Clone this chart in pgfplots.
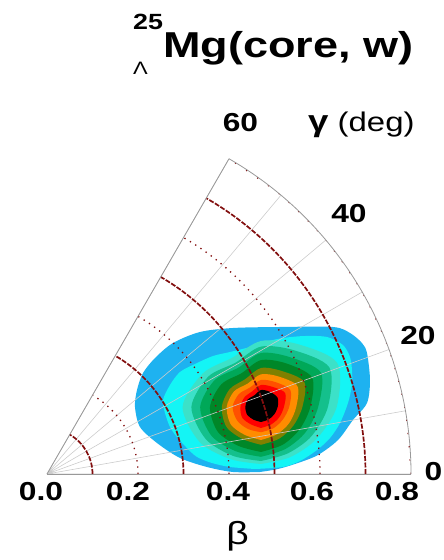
\documentclass[border=0pt]{standalone}
\usepackage{pgfplots}
\pgfplotsset{compat=1.18}
\usepgfplotslibrary{polar}
\usepackage{fontspec}
\setmainfont{Liberation Sans}
\newfontfamily\widefont[FakeStretch=1.22]{Liberation Sans}
\newfontfamily\titlefont[FakeStretch=1.25]{Liberation Sans}
\definecolor{dkred}{RGB}{130,15,15}
\definecolor{cBlue}{RGB}{30,178,240}
\definecolor{cCyan}{RGB}{20,245,245}
\definecolor{cAqua}{RGB}{60,225,200}
\definecolor{cTeal}{RGB}{20,192,140}
\definecolor{cGreen}{RGB}{0,168,88}
\definecolor{cDkGreen}{RGB}{0,135,40}
\definecolor{cOlive}{RGB}{128,128,0}
\definecolor{cOrange}{RGB}{255,140,0}
\definecolor{cOrRed}{RGB}{255,80,0}
\definecolor{cRed}{RGB}{255,0,0}
\begin{document}
\begin{tikzpicture}
\begin{polaraxis}[
  scale only axis, width=728bp, height=728bp,
  xmin=0, xmax=60, ymin=0, ymax=0.8,
  xtick={0,10,20,30,40,50,60},
  ytick={0.2,0.4,0.6}, minor ytick={0.1,0.3,0.5,0.7},
  xticklabels={}, yticklabels={},
  major tick length=0pt, minor tick length=0pt,
  grid=both,
  major x grid style={draw=black!20, line width=0.6bp},
  major y grid style={draw=dkred, line width=1.3bp, dash pattern=on 1.3bp off 5bp},
  minor y grid style={draw=dkred, line width=1.7bp, dash pattern=on 5bp off 1.5bp},
  axis line style={draw=black!40, line width=0.8bp},
  axis on top,
]
\coordinate (O) at (axis cs:0,0);
% outer level (blue)
\addplot[data cs=cart, fill=cBlue, draw=none, smooth] coordinates {
(0.4681,0.0044) (0.5077,0.0110) (0.5516,0.0242) (0.5956,0.0418) (0.6396,0.0747)
(0.6725,0.1187) (0.7033,0.1560) (0.7099,0.2066) (0.7033,0.2659) (0.6923,0.2879)
(0.6659,0.3099) (0.6286,0.3231) (0.5121,0.3231) (0.4088,0.3209) (0.3363,0.3121)
(0.2769,0.2879) (0.2374,0.2549) (0.2110,0.2220) (0.1978,0.1846) (0.1934,0.1473)
(0.2044,0.1033) (0.2418,0.0681) (0.2923,0.0352) (0.3516,0.0154) (0.4088,0.0044)
(0.4681,0.0044)};
% cyan
\addplot[data cs=cart, fill=cCyan, draw=none, smooth] coordinates {
(0.4571,0.0110) (0.5187,0.0154) (0.5560,0.0286) (0.5934,0.0527) (0.6220,0.0791)
(0.6440,0.1121) (0.6615,0.1560) (0.6703,0.1956) (0.6703,0.2286) (0.6659,0.2571)
(0.6505,0.2835) (0.6154,0.3011) (0.5670,0.3033) (0.5187,0.2989) (0.4791,0.2901)
(0.4462,0.2791) (0.4022,0.2681) (0.3648,0.2593) (0.3253,0.2418) (0.2923,0.2242)
(0.2703,0.1956) (0.2549,0.1626) (0.2593,0.1341) (0.2703,0.1033) (0.2857,0.0813)
(0.3077,0.0571) (0.3297,0.0374) (0.3626,0.0242) (0.4022,0.0154) (0.4571,0.0110)};
% aqua
\addplot[data cs=cart, fill=cAqua, draw=none, smooth] coordinates {
(0.4703,0.0220) (0.5341,0.0369) (0.5921,0.0769) (0.6367,0.1473) (0.6378,0.2440)
(0.5503,0.2857) (0.4703,0.2923) (0.4077,0.2558) (0.3424,0.2211) (0.2980,0.1473)
(0.3360,0.0697) (0.4040,0.0325) (0.4703,0.0220)};
% teal
\addplot[data cs=cart, fill=cTeal, draw=none, smooth] coordinates {
(0.4703,0.0286) (0.5292,0.0453) (0.5813,0.0831) (0.6174,0.1473) (0.6207,0.2341)
(0.5424,0.2721) (0.4703,0.2800) (0.4141,0.2446) (0.3545,0.2141) (0.3174,0.1473)
(0.3488,0.0769) (0.4084,0.0400) (0.4703,0.0286)};
% green
\addplot[data cs=cart, fill=cGreen, draw=none, smooth] coordinates {
(0.4703,0.0378) (0.5237,0.0549) (0.5677,0.0910) (0.5960,0.1473) (0.6018,0.2231)
(0.5336,0.2569) (0.4703,0.2659) (0.4204,0.2336) (0.3684,0.2062) (0.3367,0.1473)
(0.3613,0.0842) (0.4143,0.0503) (0.4703,0.0378)};
% dark green
\addplot[data cs=cart, fill=cDkGreen, draw=none, smooth] coordinates {
(0.4703,0.0484) (0.5182,0.0644) (0.5552,0.0982) (0.5787,0.1473) (0.5826,0.2121)
(0.5257,0.2431) (0.4703,0.2503) (0.4275,0.2215) (0.3835,0.1974) (0.3582,0.1473)
(0.3756,0.0925) (0.4209,0.0618) (0.4703,0.0484)};
% olive
\addplot[data cs=cart, fill=cOlive, draw=none, smooth] coordinates {
(0.4703,0.0642) (0.5105,0.0778) (0.5415,0.1062) (0.5613,0.1473) (0.5655,0.2022)
(0.5160,0.2264) (0.4703,0.2330) (0.4352,0.2081) (0.4018,0.1868) (0.3842,0.1473)
(0.3945,0.1035) (0.4297,0.0769) (0.4703,0.0642)};
% orange
\addplot[data cs=cart, fill=cOrange, draw=none, smooth] coordinates {
(0.4703,0.0747) (0.5051,0.0873) (0.5321,0.1116) (0.5477,0.1473) (0.5503,0.1934)
(0.5090,0.2143) (0.4703,0.2191) (0.4407,0.1985) (0.4110,0.1815) (0.3949,0.1473)
(0.4040,0.1088) (0.4349,0.0859) (0.4703,0.0747)};
% orange-red
\addplot[data cs=cart, fill=cOrRed, draw=none, smooth] coordinates {
(0.4703,0.0919) (0.4974,0.1004) (0.5182,0.1196) (0.5323,0.1473) (0.5349,0.1846)
(0.5020,0.2020) (0.4703,0.2066) (0.4457,0.1899) (0.4215,0.1754) (0.4079,0.1473)
(0.4182,0.1171) (0.4422,0.0987) (0.4703,0.0919)};
% red
\addplot[data cs=cart, fill=cRed, draw=none, smooth] coordinates {
(0.4703,0.1011) (0.4925,0.1088) (0.5101,0.1242) (0.5207,0.1473) (0.5235,0.1780)
(0.4958,0.1914) (0.4703,0.1956) (0.4505,0.1813) (0.4338,0.1684) (0.4251,0.1473)
(0.4292,0.1235) (0.4484,0.1090) (0.4703,0.1011)};
% black
\addplot[data cs=cart, fill=black, draw=none, smooth] coordinates {
(0.4703,0.1143) (0.4864,0.1196) (0.4991,0.1305) (0.5070,0.1473) (0.5066,0.1681)
(0.4897,0.1807) (0.4703,0.1846) (0.4556,0.1727) (0.4413,0.1640) (0.4358,0.1473)
(0.4402,0.1299) (0.4541,0.1193) (0.4703,0.1143)};
% dots on the outer arc
\addplot[draw=dkred, line width=1.3bp, dash pattern=on 1.3bp off 12bp, smooth] coordinates {
(0,0.8) (10,0.8) (20,0.8) (30,0.8) (40,0.8) (50,0.8) (60,0.8)};
\end{polaraxis}
% tick labels
\begin{scope}[every node/.style={inner sep=0pt, font=\widefont\bfseries\fontsize{26bp}{30bp}\selectfont}]
\node at ([shift={(-6bp,-18bp)}]O) {0.0};
\node at ([shift={(81bp,-18bp)}]O) {0.2};
\node at ([shift={(181bp,-18bp)}]O) {0.4};
\node at ([shift={(265bp,-18bp)}]O) {0.6};
\node at ([shift={(350bp,-18bp)}]O) {0.8};
\node at ([shift={(386.5bp,2.5bp)}]O) {0};
\node at ([shift={(371bp,138bp)}]O) {20};
\node at ([shift={(302bp,260bp)}]O) {40};
\node at ([shift={(193.5bp,351.5bp)}]O) {60};
\end{scope}
\node[anchor=base west, inner sep=0pt] at ([shift={(261bp,342bp)}]O)
  {\widefont\fontsize{30bp}{32bp}\selectfont\bfseries γ\mdseries\fontsize{27bp}{30bp}\selectfont\ (deg)};
\node[inner sep=0pt] at ([shift={(190.5bp,-62.5bp)}]O)
  {\widefont\fontsize{32bp}{36bp}\selectfont β};
% title
\node[anchor=base west, inner sep=0pt] at ([shift={(116bp,416bp)}]O)
  {\titlefont\bfseries\fontsize{36bp}{40bp}\selectfont Mg(core, w)};
\node[anchor=base west, inner sep=0pt] at ([shift={(86bp,444bp)}]O)
  {\widefont\bfseries\fontsize{22bp}{24bp}\selectfont 25};
\node[anchor=base west, inner sep=0pt] at ([shift={(86bp,399bp)}]O)
  {\widefont\fontsize{18bp}{20bp}\selectfont Λ};
\pgfresetboundingbox
\path[use as bounding box] ([shift={(-47bp,-86bp)}]O) rectangle ([shift={(397bp,474bp)}]O);
\end{tikzpicture}
\end{document}
